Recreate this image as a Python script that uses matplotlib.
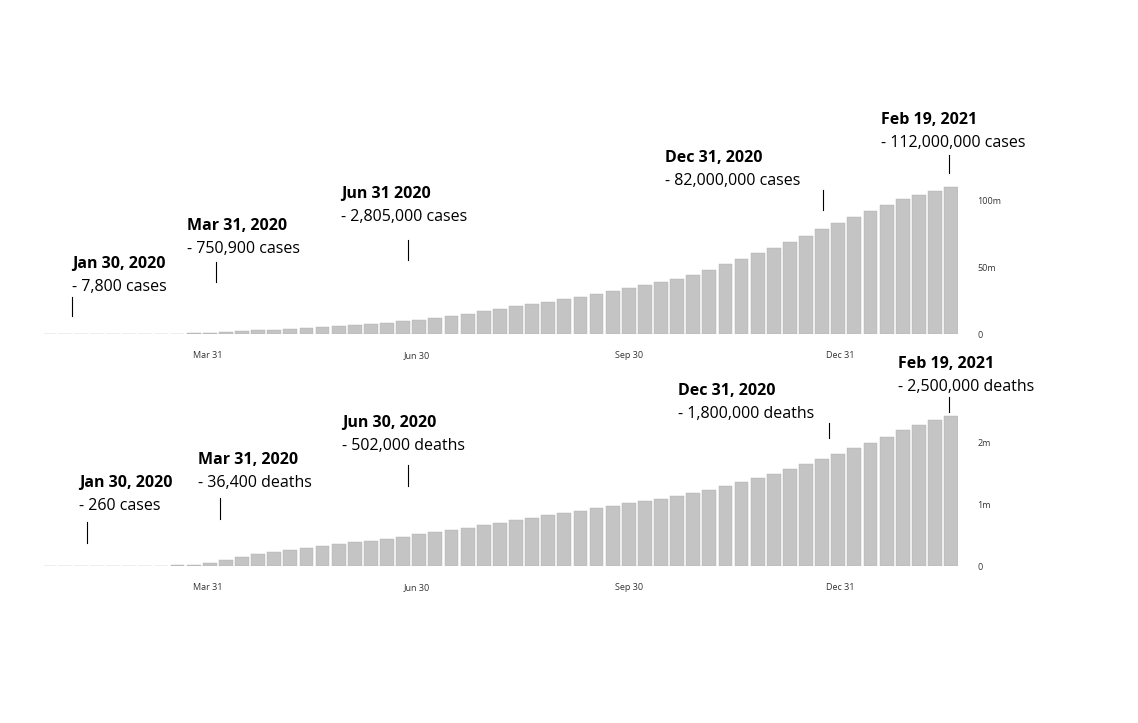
import matplotlib
matplotlib.use("Agg")
import matplotlib.pyplot as plt
import matplotlib.dates as mdates
import numpy as np
from matplotlib.lines import Line2D

W, H = 1138, 723

# weekly snapshots starting Jan 22, 2020
start = np.datetime64("2020-01-22")
cases_m = [0.00056, 0.006, 0.028, 0.06, 0.076, 0.082, 0.095, 0.126, 0.22, 0.47,
           0.93, 1.5, 2.08, 2.63, 3.2, 3.8, 4.4, 5.0, 5.7, 6.5, 7.4, 8.4, 9.5,
           10.7, 12.0, 13.5, 15.2, 17.0, 18.8, 20.6, 22.4, 24.2, 26.0, 27.9,
           29.9, 32.0, 34.0, 36.3, 38.6, 41.3, 44.3, 47.9, 51.9, 56.0, 60.4,
           64.4, 68.8, 73.5, 78.3, 82.6, 87.4, 92.1, 96.5, 100.5, 104.0, 107.0, 109.8]
deaths_m = [0.00002, 0.0002, 0.0006, 0.0014, 0.002, 0.0028, 0.0033, 0.0045, 0.009,
            0.02, 0.05, 0.09, 0.14, 0.19, 0.23, 0.26, 0.29, 0.32, 0.35, 0.38, 0.41,
            0.44, 0.47, 0.51, 0.55, 0.58, 0.62, 0.66, 0.70, 0.74, 0.78, 0.82, 0.86,
            0.89, 0.93, 0.97, 1.01, 1.05, 1.09, 1.13, 1.18, 1.23, 1.29, 1.35, 1.42,
            1.49, 1.57, 1.65, 1.73, 1.81, 1.90, 1.99, 2.09, 2.19, 2.28, 2.36, 2.43]
dates = start + np.arange(len(cases_m)) * 7

tick_dates = ["2020-03-31", "2020-06-30", "2020-09-30", "2020-12-31"]
tick_labels = ["Mar 31", "Jun 30", "Sep 30", "Dec 31"]

top_notes = [
    ("Jan 30, 2020", "- 7,800 cases", 72, 264, 72, 297, 316),
    ("Mar 31, 2020", "- 750,900 cases", 187, 226, 216, 262, 282),
    ("Jun 31 2020", "- 2,805,000 cases", 341, 194, 408, 240, 260),
    ("Dec 31, 2020", "- 82,000,000 cases", 665, 158, 823, 190, 210),
    ("Feb 19, 2021", "- 112,000,000 cases", 881, 120, 949, 155, 173),
]
bottom_notes = [
    ("Jan 30, 2020", "- 260 cases", 79, 483, 87, 522, 543),
    ("Mar 31, 2020", "- 36,400 deaths", 198, 460, 220, 498, 519),
    ("Jun 30, 2020", "- 502,000 deaths", 342, 423, 408, 465, 486),
    ("Dec 31, 2020", "- 1,800,000 deaths", 678, 391, 829, 423, 438),
    ("Feb 19, 2021", "- 2,500,000 deaths", 898, 364, 949, 397, 412),
]

plt.rcParams["font.family"] = "Open Sans"
fig = plt.figure(figsize=(W / 100, H / 100), dpi=100)
xmin, xmax = np.datetime64("2020-01-20"), np.datetime64("2021-02-20")


def add_panel(top_px, bottom_px, values, ymax, yticks, ylabels):
    ax = fig.add_axes([44 / W, 1 - bottom_px / H, (958 - 44) / W, (bottom_px - top_px) / H])
    ax.bar(dates.astype("datetime64[D]").astype(object), values, width=6,
           color="#c4c4c4", edgecolor="#b0b0b0", linewidth=0.3)
    ax.set_xlim(xmin.astype(object), xmax.astype(object))
    ax.set_ylim(0, ymax)
    for s in ax.spines.values():
        s.set_visible(False)
    ax.set_xticks([np.datetime64(d).astype(object) for d in tick_dates])
    ax.set_xticklabels(tick_labels, fontsize=6.5, color="#333333")
    ax.yaxis.tick_right()
    ax.set_yticks(yticks)
    ax.set_yticklabels(ylabels, fontsize=6.5, color="#333333")
    ax.tick_params(length=0, pad=12)
    ax.tick_params(axis="y", pad=14)
    return ax


add_panel(180, 334, cases_m, 115, [0, 50, 100], ["0", "50m", "100m"])
add_panel(405, 566, deaths_m, 2.6, [0, 1, 2], ["0", "1m", "2m"])

for notes in (top_notes, bottom_notes):
    for title, sub, tx, ty, lx, ly1, ly2 in notes:
        fig.text(tx / W, 1 - ty / H, title, fontsize=11.5, fontweight="bold", va="center")
        fig.text(tx / W, 1 - (ty + 23) / H, sub, fontsize=11.5, va="center")
        fig.add_artist(Line2D([lx / W, lx / W], [1 - ly1 / H, 1 - ly2 / H],
                              color="black", linewidth=0.8))

fig.savefig("out.png", dpi=100)
